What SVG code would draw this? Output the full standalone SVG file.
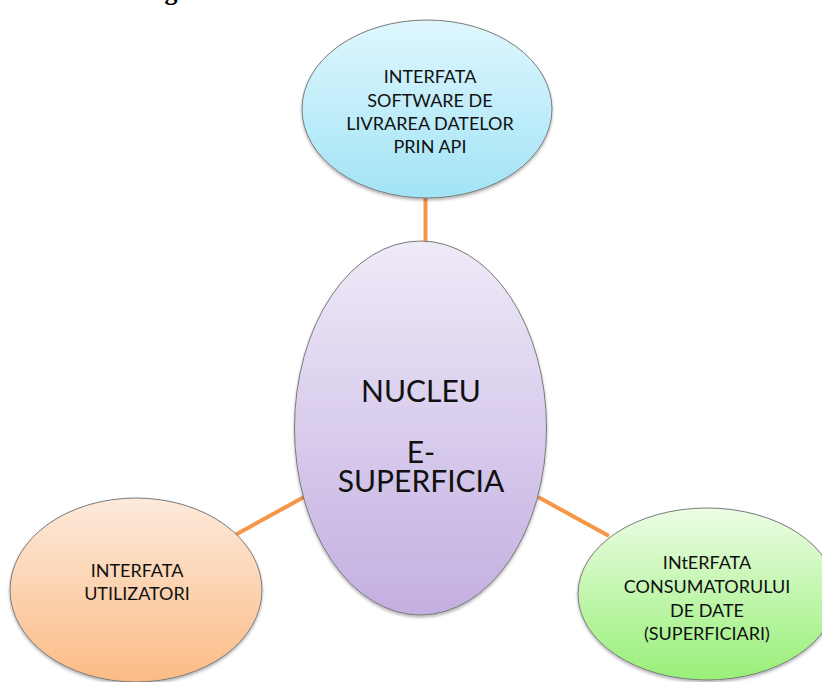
<svg xmlns="http://www.w3.org/2000/svg" width="822" height="682" viewBox="0 0 822 682">
<defs>
<linearGradient id="gBlue" x1="0" y1="0" x2="0" y2="1"><stop offset="0" stop-color="#dff7fe"/><stop offset="1" stop-color="#a2e3f6"/></linearGradient>
<linearGradient id="gPurple" x1="0" y1="0" x2="0" y2="1"><stop offset="0" stop-color="#efeaf8"/><stop offset="1" stop-color="#c3afe1"/></linearGradient>
<linearGradient id="gOrange" x1="0" y1="0" x2="0" y2="1"><stop offset="0" stop-color="#fdeadb"/><stop offset="1" stop-color="#fbbb86"/></linearGradient>
<linearGradient id="gGreen" x1="0" y1="0" x2="0" y2="1"><stop offset="0" stop-color="#ecfde4"/><stop offset="1" stop-color="#98ef78"/></linearGradient>
<filter id="sh" x="-10%" y="-10%" width="120%" height="125%"><feDropShadow dx="0" dy="2" stdDeviation="1.5" flood-color="#000" flood-opacity="0.3"/></filter>
</defs>
<style>
.node{stroke:#7a7a7a;stroke-width:1;filter:url(#sh)}
.t{font-family:Lato,"Liberation Sans",Arial,sans-serif;fill:#111;text-anchor:middle}
.s{font-size:18px}
.b{font-size:30px}
.conn{stroke:#f79646;stroke-width:4;fill:none}
</style>
<rect width="822" height="682" fill="#fff"/>
<text x="171" y="0" font-family="'Liberation Serif',serif" font-weight="bold" font-size="26" text-anchor="middle" fill="#000">g</text>
<g id="connectors">
<line class="conn" x1="425.5" y1="196" x2="425.5" y2="245"/>
<line class="conn" x1="235" y1="535" x2="304" y2="497"/>
<line class="conn" x1="538" y1="497" x2="609" y2="536"/>
</g>
<g id="node-api">
<ellipse class="node" cx="427" cy="109" rx="125" ry="89" fill="url(#gBlue)"/>
<text class="t s" x="430" y="83">INTERFATA</text>
<text class="t s" x="430" y="107">SOFTWARE  DE</text>
<text class="t s" x="430" y="130">LIVRAREA DATELOR</text>
<text class="t s" x="430" y="153">PRIN API</text>
</g>
<g id="node-nucleu">
<ellipse class="node" cx="420.5" cy="428" rx="126" ry="187" fill="url(#gPurple)"/>
<text class="t b" x="421" y="402">NUCLEU</text>
<text class="t b" x="421" y="463">E-</text>
<text class="t b" x="421" y="492">SUPERFICIA</text>
</g>
<g id="node-utilizatori">
<ellipse class="node" cx="136" cy="590" rx="126" ry="92" fill="url(#gOrange)"/>
<text class="t s" x="137" y="577">INTERFATA</text>
<text class="t s" x="137" y="600">UTILIZATORI</text>
</g>
<g id="node-consumator">
<ellipse class="node" cx="707" cy="594" rx="129" ry="86" fill="url(#gGreen)"/>
<text class="t s" x="707" y="569">INtERFATA</text>
<text class="t s" x="707" y="593">CONSUMATORULUI</text>
<text class="t s" x="707" y="617">DE DATE</text>
<text class="t s" x="707" y="640">(SUPERFICIARI)</text>
</g>
</svg>
